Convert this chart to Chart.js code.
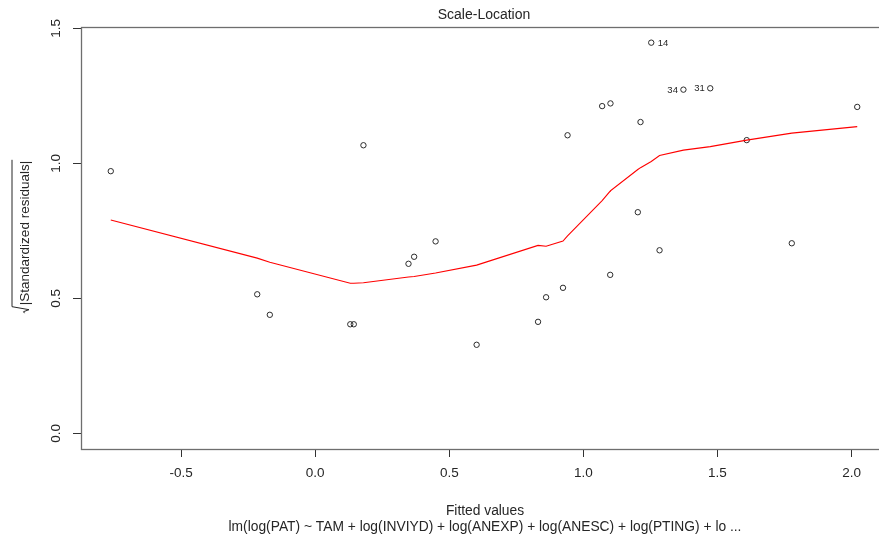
<!DOCTYPE html>
<html lang="en">
<head>
<meta charset="UTF-8">
<title>Scale-Location</title>
<script src="https://cdn.jsdelivr.net/npm/chart.js"></script>
<style>
  html, body { margin: 0; padding: 0; overflow: hidden; background: #fff; }
  canvas { display: block; }
</style>
</head>
<body>
<canvas id="chart" width="900" height="542"></canvas>
<script>
// fitted values and sqrt(|standardized residuals|) of the model
var fitted = [-0.762, -0.216, -0.169, 0.131, 0.144, 0.180, 0.348, 0.369, 0.449, 0.602,
              0.831, 0.861, 0.924, 0.941, 1.070, 1.101, 1.100, 1.203, 1.213, 1.253,
              1.284, 1.373, 1.473, 1.609, 1.777, 2.021]
var sqrtResid = [0.971, 0.515, 0.439, 0.404, 0.404, 1.067, 0.628, 0.654, 0.711, 0.328,
                 0.413, 0.504, 0.539, 1.104, 1.212, 1.222, 0.587, 0.819, 1.153, 1.447,
                 0.678, 1.273, 1.278, 1.086, 0.704, 1.209]
// observation numbers shown next to the largest residuals
var pointIds = ['', '', '', '', '', '', '', '', '', '',
                '', '', '', '', '', '', '', '', '', '14',
                '', '34', '31', '', '', '']

// lowess smoother, evaluated at the sorted fitted values
var smoothX = [-0.762, -0.216, -0.169, 0.131, 0.144, 0.180, 0.348, 0.369, 0.449, 0.602,
               0.831, 0.861, 0.924, 0.941, 1.070, 1.100, 1.101, 1.203, 1.213, 1.253,
               1.284, 1.373, 1.473, 1.609, 1.777, 2.021]
var smoothY = [0.790, 0.649, 0.634, 0.556, 0.556, 0.558, 0.579, 0.581, 0.594, 0.623,
               0.696, 0.693, 0.712, 0.731, 0.862, 0.897, 0.898, 0.977, 0.984, 1.007,
               1.029, 1.049, 1.062, 1.086, 1.112, 1.136]

var xTicks = [-0.5, 0.0, 0.5, 1.0, 1.5, 2.0]
var yTicks = [0.0, 0.5, 1.0, 1.5]

var titleText = 'Scale-Location'
var xTitle = 'Fitted values'
var subTitle = 'lm(log(PAT) ~ TAM + log(INVIYD) + log(ANEXP) + log(ANESC) + log(PTING) + lo ...'
var yTitle = '|Standardized residuals|'

var FONT = "'Liberation Sans', Arial, sans-serif"
var TEXT = '#262626'

function pairs(xs, ys) {
    return xs.map(function (x, i) { return { x: x, y: ys[i] } })
}

// box, titles, rotated y tick labels and point ids (base-graphics look)
var decor = {
    id: 'decor',
    afterDraw: function (chart) {
        var ctx = chart.ctx
        var a = chart.chartArea
        var xs = chart.scales.x
        var ys = chart.scales.y
        var cx = (a.left + a.right) / 2

        ctx.save()
        ctx.strokeStyle = '#6e6e6e'
        ctx.lineWidth = 1.3
        ctx.strokeRect(a.left + 0.5, a.top + 0.5, a.right - a.left, a.bottom - a.top)

        ctx.fillStyle = TEXT
        ctx.textAlign = 'center'
        ctx.textBaseline = 'middle'
        ctx.font = '14px ' + FONT
        ctx.fillText(titleText, cx, 15.5)

        ctx.font = '13.8px ' + FONT
        ctx.fillText(xTitle, cx + 1, 511)
        ctx.fillText(subTitle, cx + 1, 527.5)

        // y tick labels, parallel to the axis
        ctx.font = '13.5px ' + FONT
        yTicks.forEach(function (v) {
            ctx.save()
            ctx.translate(56.5, ys.getPixelForValue(v))
            ctx.rotate(-Math.PI / 2)
            ctx.fillText(v.toFixed(1), 0, 0)
            ctx.restore()
        })

        // sqrt(|Standardized residuals|) with a drawn radical
        ctx.save()
        ctx.translate(28.5, 237)
        ctx.rotate(-Math.PI / 2)
        ctx.textBaseline = 'alphabetic'
        ctx.textAlign = 'left'
        var w = ctx.measureText(yTitle).width
        var rad = 8
        var u0 = -(w + rad) / 2
        ctx.fillText(yTitle, u0 + rad, 0)
        ctx.strokeStyle = TEXT
        ctx.lineWidth = 1
        ctx.beginPath()
        ctx.moveTo(u0, -4)
        ctx.lineTo(u0 + 1.5, -5)
        ctx.lineTo(u0 + 3.5, 0.5)
        ctx.lineTo(u0 + 6.5, -16.5)
        ctx.lineTo(u0 + rad + w + 1, -16.5)
        ctx.stroke()
        ctx.restore()

        // ids of flagged points, left or right of the mark
        var flagged = []
        pointIds.forEach(function (id, i) { if (id) flagged.push(fitted[i]) })
        var mid = (Math.min.apply(null, flagged) + Math.max.apply(null, flagged)) / 2
        ctx.font = '9.5px ' + FONT
        ctx.textBaseline = 'middle'
        pointIds.forEach(function (id, i) {
            if (!id) return
            var px = xs.getPixelForValue(fitted[i])
            var py = ys.getPixelForValue(sqrtResid[i])
            if (fitted[i] > mid) {
                ctx.textAlign = 'right'
                ctx.fillText(id, px - 5.5, py + 0.5)
            } else {
                ctx.textAlign = 'left'
                ctx.fillText(id, px + 6.5, py + 0.5)
            }
        })
        ctx.restore()
    }
}

var canvas = document.getElementById('chart')
var chart = new Chart(canvas, {
    type: 'scatter',
    data: {
        datasets: [{
            type: 'line',
            data: pairs(smoothX, smoothY),
            borderColor: '#ff0000',
            borderWidth: 1.1,
            pointRadius: 0,
            tension: 0,
            fill: false
        }, {
            data: pairs(fitted, sqrtResid),
            pointStyle: 'circle',
            pointRadius: 2.7,
            pointBorderWidth: 1,
            pointBorderColor: '#2b2b2b',
            pointBackgroundColor: 'rgba(0,0,0,0)'
        }]
    },
    options: {
        responsive: false,
        animation: false,
        devicePixelRatio: 1,
        layout: { padding: { top: 27, right: 13, bottom: 0, left: 0 } },
        plugins: {
            legend: { display: false },
            tooltip: { enabled: false },
            title: { display: false }
        },
        scales: {
            x: {
                type: 'linear',
                min: -0.873,
                max: 2.132,
                afterBuildTicks: function (s) { s.ticks = xTicks.map(function (v) { return { value: v } }) },
                afterFit: function (s) { s.height = 93 },
                border: { display: false },
                grid: { drawOnChartArea: false, tickLength: 8, color: '#333', lineWidth: 1 },
                ticks: {
                    autoSkip: false,
                    maxRotation: 0,
                    padding: 8,
                    color: TEXT,
                    font: { family: FONT, size: 13.5 },
                    callback: function (v) { return Number(v).toFixed(1) }
                }
            },
            y: {
                type: 'linear',
                min: -0.058,
                max: 1.505,
                afterBuildTicks: function (s) { s.ticks = yTicks.map(function (v) { return { value: v } }) },
                afterFit: function (s) { s.width = 81 },
                border: { display: false },
                grid: { drawOnChartArea: false, tickLength: 8, color: '#333', lineWidth: 1 },
                ticks: { display: false }
            }
        }
    },
    plugins: [decor]
})
</script>
</body>
</html>
